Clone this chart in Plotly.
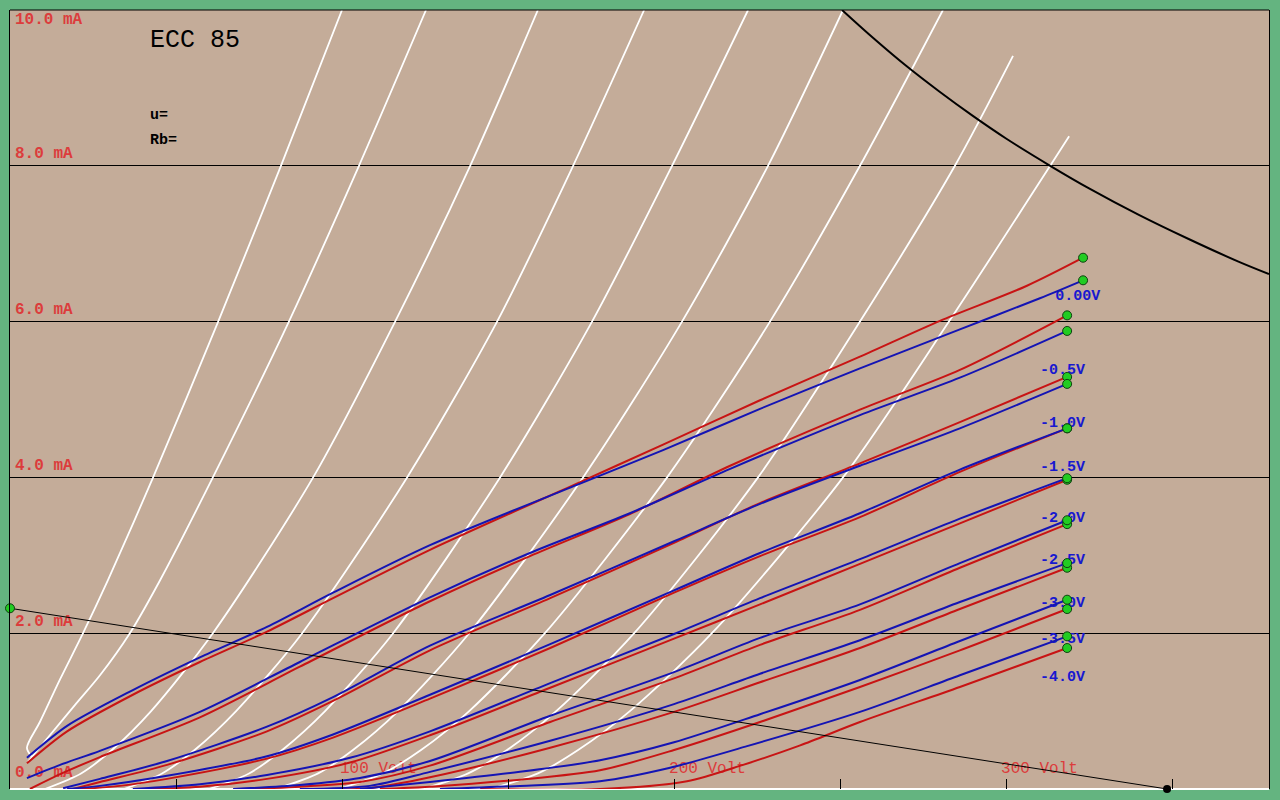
import plotly.graph_objects as go

# ---------------- axes ----------------
X_RANGE = [0, 379.2]          # anode voltage (V)
Y_RANGE = [0, 10.0]           # anode current (mA)
GRID_MA = [2, 4, 6, 8]
TICK_V = [50, 100, 150, 200, 250, 300, 350]

# ---------------- labels ----------------
ma_labels = ["10.0 mA", "8.0 mA", "6.0 mA", "4.0 mA", "2.0 mA", "0.0 mA"]
ma_label_pos = [9.87, 8.15, 6.15, 4.15, 2.14, 0.20]
volt_labels = ["100 Volt", "200 Volt", "300 Volt"]
volt_label_pos = [99.4, 198.5, 298.5]
grid_labels = ["0.00V", "-0.5V", "-1.0V", "-1.5V", "-2.0V", "-2.5V", "-3.0V", "-3.5V", "-4.0V"]
grid_label_v = [314.8, 310.2, 310.2, 310.2, 310.2, 310.2, 310.2, 310.2, 310.2]
grid_label_i = [6.32, 5.37, 4.69, 4.13, 3.48, 2.94, 2.39, 1.92, 1.44]

# ---------------- measured curves (blue system) ----------------
blue_volts = [
    [5.1, 17.2, 37.0, 57.2, 77.4, 97.3, 126.5, 171.7, 196.7, 225.9, 256.0, 286.1, 310.2, 323.2],
    [5.1, 15.1, 27.1, 57.2, 87.3, 126.5, 156.6, 186.7, 216.9, 256.0, 286.1, 318.4],
    [16.0, 27.1, 47.3, 77.4, 97.3, 126.5, 162.7, 200.0, 225.9, 256.0, 286.1, 318.4],
    [17.2, 27.1, 47.3, 77.4, 97.3, 126.5, 162.7, 200.0, 225.9, 256.0, 286.1, 318.4],
    [37.0, 57.2, 77.4, 102.4, 126.5, 162.7, 200.0, 225.9, 256.0, 286.1, 318.4],
    [67.2, 87.3, 105.4, 126.5, 162.7, 200.0, 225.9, 256.0, 286.1, 318.4],
    [87.3, 108.4, 126.5, 162.7, 200.0, 225.9, 256.0, 286.1, 318.4],
    [105.4, 126.5, 153.6, 177.7, 200.0, 225.9, 256.0, 286.1, 318.4],
    [129.5, 153.6, 177.7, 198.5, 222.0, 256.0, 286.1, 318.4],
]
blue_ma = [
    [0.40, 0.81, 1.27, 1.69, 2.08, 2.52, 3.13, 3.92, 4.35, 4.88, 5.40, 5.90, 6.30, 6.53],
    [0.14, 0.31, 0.49, 0.99, 1.63, 2.46, 3.03, 3.54, 4.11, 4.80, 5.28, 5.88],
    [0.01, 0.13, 0.36, 0.80, 1.18, 1.84, 2.49, 3.18, 3.66, 4.15, 4.63, 5.20],
    [0.00, 0.04, 0.17, 0.42, 0.70, 1.21, 1.86, 2.55, 3.03, 3.54, 4.10, 4.63],
    [0.00, 0.06, 0.18, 0.40, 0.74, 1.36, 1.99, 2.45, 2.95, 3.47, 3.99],
    [0.00, 0.05, 0.14, 0.36, 0.94, 1.50, 1.94, 2.37, 2.90, 3.45],
    [0.00, 0.04, 0.22, 0.62, 1.09, 1.48, 1.91, 2.40, 2.90],
    [0.00, 0.09, 0.22, 0.37, 0.60, 0.96, 1.40, 1.90, 2.43],
    [0.00, 0.04, 0.10, 0.27, 0.55, 0.99, 1.46, 1.96],
]

# ---------------- measured curves (red system) ----------------
red_volts = [
    [5.1, 17.2, 37.0, 57.2, 77.4, 97.3, 126.5, 171.7, 196.7, 225.9, 256.0, 280.1, 306.3, 323.2],
    [6.0, 15.1, 27.1, 57.2, 87.3, 126.5, 156.6, 186.7, 216.9, 256.0, 286.1, 318.4],
    [19.0, 27.1, 47.3, 77.4, 97.3, 126.5, 162.7, 200.0, 225.9, 256.0, 286.1, 318.4],
    [21.1, 33.1, 47.3, 77.4, 97.3, 126.5, 162.7, 200.0, 225.9, 256.0, 286.1, 318.4],
    [42.2, 57.2, 77.4, 102.4, 126.5, 162.7, 200.0, 225.9, 256.0, 286.1, 318.4],
    [72.3, 87.3, 105.4, 126.5, 162.7, 200.0, 225.9, 256.0, 286.1, 318.4],
    [93.4, 108.4, 126.5, 162.7, 200.0, 225.9, 256.0, 286.1, 318.4],
    [111.4, 126.5, 153.6, 177.7, 200.0, 225.9, 256.0, 286.1, 318.4],
    [141.6, 177.7, 203.9, 220.8, 238.0, 256.0, 286.1, 318.4],
]
red_ma = [
    [0.33, 0.74, 1.21, 1.63, 2.02, 2.45, 3.07, 3.94, 4.42, 4.99, 5.55, 6.01, 6.46, 6.82],
    [0.00, 0.19, 0.41, 0.92, 1.57, 2.41, 2.99, 3.53, 4.15, 4.87, 5.38, 6.08],
    [0.00, 0.09, 0.31, 0.74, 1.13, 1.78, 2.45, 3.16, 3.67, 4.18, 4.71, 5.29],
    [0.00, 0.04, 0.13, 0.39, 0.66, 1.16, 1.81, 2.52, 2.99, 3.49, 4.07, 4.63],
    [0.00, 0.03, 0.13, 0.34, 0.69, 1.30, 1.93, 2.37, 2.89, 3.41, 3.97],
    [0.00, 0.03, 0.09, 0.30, 0.86, 1.42, 1.85, 2.30, 2.84, 3.40],
    [0.00, 0.01, 0.15, 0.53, 0.99, 1.37, 1.81, 2.31, 2.84],
    [0.00, 0.03, 0.12, 0.24, 0.50, 0.86, 1.31, 1.78, 2.31],
    [0.00, 0.00, 0.10, 0.31, 0.56, 0.86, 1.31, 1.81],
]

# ---------------- model curves (white) ----------------
white_volts = [
    [6.6, 5.1, 9.0, 15.1, 22.0, 29.5, 43.1, 62.7, 81.6, 100.0],
    [5.4, 12.0, 19.6, 27.1, 36.1, 45.2, 61.1, 84.0, 105.1, 125.3],
    [10.5, 21.4, 30.7, 42.5, 61.1, 91.3, 116.0, 138.6, 159.0],
    [34.3, 45.8, 55.6, 68.1, 88.0, 119.6, 146.7, 169.6, 191.0],
    [59.9, 72.0, 82.0, 94.9, 115.4, 147.6, 175.3, 199.4, 222.3],
    [80.1, 92.8, 103.3, 116.9, 138.3, 172.6, 202.4, 228.3, 250.9],
    [99.1, 112.3, 123.8, 138.3, 161.1, 197.9, 228.9, 256.0, 281.0],
    [124.4, 138.0, 149.7, 164.5, 188.0, 225.3, 256.0, 284.6, 302.1],
    [144.6, 159.0, 171.1, 186.7, 211.4, 250.9, 282.8, 313.3, 319.0],
]
white_ma = [
    [0.41, 0.53, 0.86, 1.41, 2.0, 2.68, 4.0, 6.0, 8.0, 10.0],
    [0.35, 0.69, 1.08, 1.46, 2.0, 2.68, 4.0, 6.0, 8.0, 10.0],
    [0.0, 0.2, 0.5, 1.0, 2.0, 4.0, 6.0, 8.0, 10.0],
    [0.0, 0.2, 0.5, 1.0, 2.0, 4.0, 6.0, 8.0, 10.0],
    [0.0, 0.2, 0.5, 1.0, 2.0, 4.0, 6.0, 8.0, 10.0],
    [0.0, 0.2, 0.5, 1.0, 2.0, 4.0, 6.0, 8.0, 10.0],
    [0.0, 0.2, 0.5, 1.0, 2.0, 4.0, 6.0, 8.0, 10.0],
    [0.0, 0.2, 0.5, 1.0, 2.0, 4.0, 6.0, 8.0, 9.41],
    [0.0, 0.2, 0.5, 1.0, 2.0, 4.0, 6.0, 8.0, 8.38],
]

# ---------------- load line and max dissipation ----------------
load_v = [0.0, 348.5]
load_ma = [2.32, 0.0]
pmax_v = [250.6, 260, 270, 280, 290, 300, 313.3, 325, 340, 355, 370, 379.2]
pmax_ma = [10.0, 9.64, 9.28, 8.95, 8.64, 8.35, 8.0, 7.71, 7.37, 7.06, 6.77, 6.61]

# ---------------- styling ----------------
PAPER = "#64B480"
PLOT = "#C4AC99"
RED = "#C81414"
BLUE = "#1414B4"
LABEL_RED = "#DC3C3C"
LABEL_BLUE = "#1818D0"
DOT_GREEN = "#22CC22"
MONO = "Liberation Mono, Courier New, monospace"

fig = go.Figure()

# background labels (drawn beneath curves)
fig.add_trace(go.Scatter(
    x=[1.5] * len(ma_labels), y=ma_label_pos, text=ma_labels, mode="text",
    textposition="middle right",
    textfont=dict(family=MONO, size=16, color=LABEL_RED, weight="bold"),
    hoverinfo="skip", cliponaxis=False))
fig.add_trace(go.Scatter(
    x=volt_label_pos, y=[0.26] * len(volt_labels), text=volt_labels, mode="text",
    textposition="middle right",
    textfont=dict(family=MONO, size=16, color=LABEL_RED),
    hoverinfo="skip", cliponaxis=False))
fig.add_trace(go.Scatter(
    x=[42.2], y=[9.6], text=["ECC 85"], mode="text", textposition="middle right",
    textfont=dict(family=MONO, size=25, color="black"), hoverinfo="skip"))
fig.add_trace(go.Scatter(
    x=[42.2, 42.2], y=[8.65, 8.33], text=["u=", "Rb="], mode="text",
    textposition="middle right",
    textfont=dict(family=MONO, size=15, color="black", weight="bold"), hoverinfo="skip"))
fig.add_trace(go.Scatter(
    x=grid_label_v, y=grid_label_i, text=grid_labels, mode="text",
    textposition="middle right",
    textfont=dict(family=MONO, size=15, color=LABEL_BLUE, weight="bold"),
    hoverinfo="skip", cliponaxis=False))

# white model curves
for xv, yv in zip(white_volts, white_ma):
    fig.add_trace(go.Scatter(x=xv, y=yv, mode="lines",
                             line=dict(color="white", width=1.8, shape="spline", smoothing=0.8),
                             hoverinfo="skip"))

# measured curves
for xv, yv in zip(red_volts, red_ma):
    fig.add_trace(go.Scatter(x=xv, y=yv, mode="lines",
                             line=dict(color=RED, width=2, shape="spline", smoothing=0.8),
                             hoverinfo="skip"))
for xv, yv in zip(blue_volts, blue_ma):
    fig.add_trace(go.Scatter(x=xv, y=yv, mode="lines",
                             line=dict(color=BLUE, width=2, shape="spline", smoothing=0.8),
                             hoverinfo="skip"))

# load line and dissipation hyperbola
fig.add_trace(go.Scatter(x=load_v, y=load_ma, mode="lines",
                         line=dict(color="black", width=1), hoverinfo="skip"))
fig.add_trace(go.Scatter(x=pmax_v, y=pmax_ma, mode="lines",
                         line=dict(color="black", width=2, shape="spline"), hoverinfo="skip"))

# end dots
end_x = [c[-1] for c in red_volts] + [c[-1] for c in blue_volts]
end_y = [c[-1] for c in red_ma] + [c[-1] for c in blue_ma]
fig.add_trace(go.Scatter(x=end_x, y=end_y, mode="markers",
                         marker=dict(color=DOT_GREEN, size=9, line=dict(color="#104010", width=1)),
                         hoverinfo="skip"))
fig.add_trace(go.Scatter(x=[load_v[0]], y=[load_ma[0]], mode="markers",
                         marker=dict(color=DOT_GREEN, size=9, line=dict(color="#104010", width=1)),
                         hoverinfo="skip", cliponaxis=False))
fig.add_trace(go.Scatter(x=[load_v[1]], y=[load_ma[1]], mode="markers",
                         marker=dict(color="black", size=8),
                         hoverinfo="skip", cliponaxis=False))

fig.update_layout(
    width=1280, height=800,
    margin=dict(l=10, r=11, t=10, b=11),
    paper_bgcolor=PAPER, plot_bgcolor=PLOT,
    showlegend=False,
    xaxis=dict(range=X_RANGE, showgrid=False, zeroline=False, showline=False,
               ticks="inside", ticklen=10, tickwidth=1, tickcolor="black",
               tickvals=TICK_V, showticklabels=False, fixedrange=True),
    yaxis=dict(range=Y_RANGE, showgrid=True, gridcolor="black", gridwidth=1,
               tickvals=GRID_MA, showticklabels=False, ticks="", zeroline=False,
               showline=True, linecolor="black", linewidth=1, mirror=True, fixedrange=True),
    shapes=[
        dict(type="line", xref="paper", yref="paper", x0=0, x1=1, y0=1, y1=1,
             line=dict(color="black", width=1)),
        dict(type="line", xref="paper", yref="paper", x0=0, x1=1, y0=0, y1=0,
             line=dict(color="white", width=2), layer="below"),
    ],
)

fig.write_html(
    "out.html",
    config={"displayModeBar": False, "staticPlot": True},
    post_script="document.body.style.margin='0';document.body.style.overflow='hidden';"
                "document.body.style.background='" + PAPER + "';",
)
